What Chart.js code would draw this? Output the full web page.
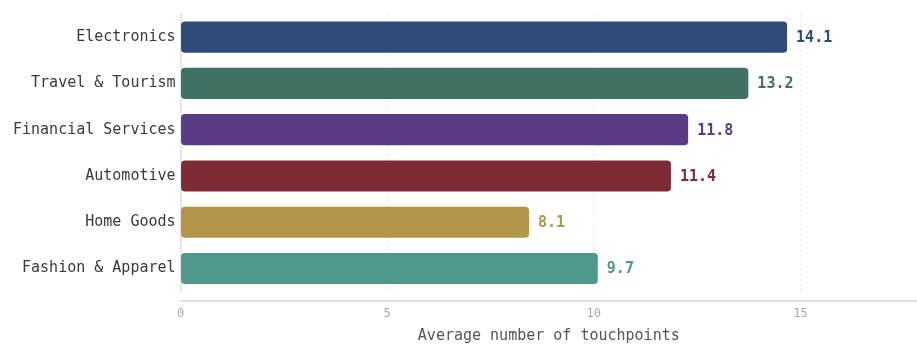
<!DOCTYPE html>
<html>
<head>
<meta charset="utf-8">
<script src="https://cdn.jsdelivr.net/npm/chart.js@4/dist/chart.umd.min.js"></script>
<style>
  html, body { margin: 0; padding: 0; background: #fff; }
  #wrap { width: 917px; height: 345px; }
</style>
</head>
<body>
<div id="wrap"><canvas id="touchpointsChart"></canvas></div>
<script>
var categories = ['Electronics', 'Travel & Tourism', 'Financial Services', 'Automotive', 'Home Goods', 'Fashion & Apparel'];
var touchpoints = [14.1, 13.2, 11.8, 11.4, 8.1, 9.7];
var barColors = ['#2f4b78', '#3f7264', '#5a3b86', '#7e2b36', '#b3954b', '#4e998b'];
var tickValues = [0, 5, 10, 15];

var monoFont = "'DejaVu Sans Mono', 'Liberation Mono', monospace";

// value labels at the end of each bar
var valueLabels = {
    id: 'valueLabels',
    afterDatasetsDraw: function(chart) {
        var ctx = chart.ctx;
        var meta = chart.getDatasetMeta(0);
        ctx.save();
        ctx.font = 'bold 15px ' + monoFont;
        ctx.textAlign = 'left';
        ctx.textBaseline = 'middle';
        meta.data.forEach(function(bar, i) {
            ctx.fillStyle = barColors[i];
            ctx.fillText(touchpoints[i].toFixed(1), bar.x + 9, bar.y + 1);
        });
        ctx.restore();
    }
};

new Chart(document.getElementById('touchpointsChart'), {
    type: 'bar',
    data: {
        labels: categories,
        datasets: [{
            data: touchpoints,
            backgroundColor: barColors,
            borderRadius: 4,
            borderSkipped: false,
            categoryPercentage: 0.8,
            barPercentage: 0.84,
            xAxisID: 'x'
        }]
    },
    options: {
        indexAxis: 'y',
        responsive: true,
        maintainAspectRatio: false,
        animation: false,
        layout: { padding: { left: 8, top: 14, right: 0, bottom: 0 } },
        plugins: {
            legend: { display: false },
            tooltip: { enabled: false }
        },
        scales: {
            y: {
                grid: { display: false, drawTicks: false },
                border: { color: '#e6e6e6', width: 2 },
                ticks: {
                    padding: 5,
                    color: '#3a3a3a',
                    font: { family: monoFont, size: 15 }
                }
            },
            // scale the bars are drawn on
            x: {
                type: 'linear',
                position: 'bottom',
                weight: 0,
                min: 0,
                max: 17.12,
                border: { display: false },
                grid: { display: true, drawOnChartArea: false, drawTicks: true, tickLength: 9, color: 'rgba(0,0,0,0)' },
                ticks: { display: false }
            },
            // visible axis
            x2: {
                type: 'linear',
                position: 'bottom',
                weight: 1,
                min: 0,
                max: 17.82,
                afterBuildTicks: function(axis) {
                    axis.ticks = tickValues.map(function(v) { return { value: v }; });
                },
                border: { color: '#e3e3e3', width: 2, dash: [2, 3] },
                grid: {
                    color: '#e6e6e6',
                    lineWidth: 1,
                    drawTicks: false
                },
                ticks: {
                    padding: 6,
                    color: '#a8a8a8',
                    font: { family: monoFont, size: 12 }
                },
                title: {
                    display: true,
                    text: 'Average number of touchpoints',
                    color: '#555',
                    font: { family: monoFont, size: 15 },
                    padding: { top: 0, bottom: 0 }
                }
            }
        }
    },
    plugins: [valueLabels]
});
</script>
</body>
</html>
